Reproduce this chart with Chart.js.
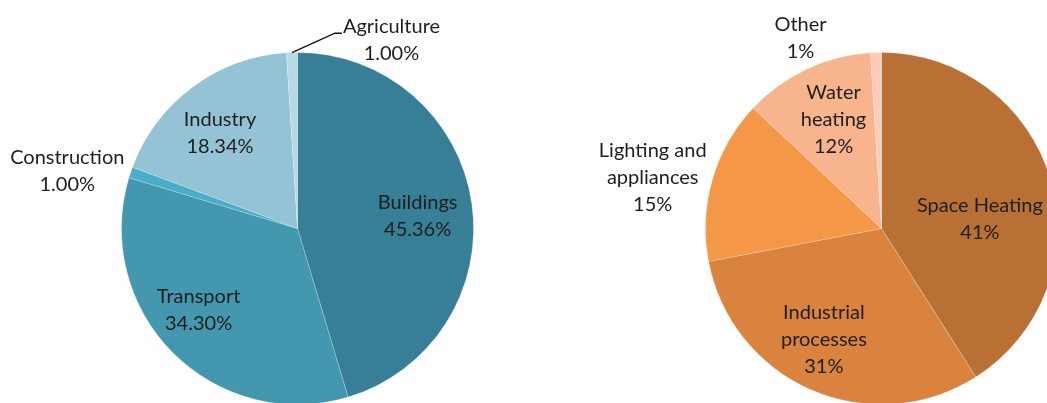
<!DOCTYPE html>
<html>
<head>
<meta charset="utf-8">
<script src="https://cdn.jsdelivr.net/npm/chart.js@4.4.0/dist/chart.umd.min.js"></script>
<style>
  html, body { margin: 0; padding: 0; background: #fff; overflow: hidden; width: 1047px; height: 403px; }
  canvas { position: absolute; left: 0; top: 0; }
</style>
</head>
<body>
<canvas id="sectores" width="1100" height="460"></canvas>
<canvas id="usos" width="1100" height="460"></canvas>
<script>
// left pie: energy use by sector
const sectores = ['Buildings', 'Transport', 'Construction', 'Industry', 'Agriculture'];
const sectoresVal = [45.36, 34.30, 1.00, 18.34, 1.00];
const sectoresTxt = ['45.36%', '34.30%', '1.00%', '18.34%', '1.00%'];
const sectoresCor = ['#367f96', '#4398b0', '#4badc9', '#93c3d5', '#b8d8e4'];

// right pie: end uses
const usos = ['Space Heating', 'Industrial processes', 'Lighting and appliances', 'Water heating', 'Other'];
const usosVal = [41, 31, 15, 12, 1];
const usosTxt = ['41%', '31%', '15%', '12%', '1%'];
const usosCor = ['#b97034', '#d9833f', '#f49747', '#f8b48d', '#fbcdb9'];

// label placement: radius fraction + nudge (px)
const sectoresPos = [
  { f: 0.69, dx: 0, dy: 5, lines: ['Buildings'] },
  { f: 0.73, dx: -8, dy: -9, lines: ['Transport'] },
  { f: 1.35, dx: -5, dy: 18, lines: ['Construction'] },
  { f: 0.70, dx: -4, dy: 3, lines: ['Industry'] },
  { f: 1.09, dx: 100, dy: 3, lines: ['Agriculture'], leader: true }
];
const usosPos = [
  { f: 0.60, dx: -3, dy: 20, lines: ['Space Heating'] },
  { f: 0.71, dx: -8, dy: -4, lines: ['Industrial', 'processes'] },
  { f: 1.33, dx: -4, dy: 14, lines: ['Lighting and', 'appliances'] },
  { f: 0.68, dx: 3, dy: -1, lines: ['Water', 'heating'] },
  { f: 1.08, dx: -75, dy: 0, lines: ['Other'] }
];

const rotulos = {
  id: 'rotulos',
  afterDatasetsDraw(chart, args, opts) {
    const c = chart.ctx;
    const arcs = chart.getDatasetMeta(0).data;
    c.save();
    c.font = '20px Lato';
    c.fillStyle = '#1e1e1e';
    c.textAlign = 'center';
    c.textBaseline = 'middle';
    arcs.forEach((arc, i) => {
      const p = arc.getProps(['x', 'y', 'startAngle', 'endAngle', 'outerRadius'], true);
      const mid = (p.startAngle + p.endAngle) / 2;
      const pos = opts.pos[i];
      const lx = p.x + Math.cos(mid) * p.outerRadius * pos.f + pos.dx;
      const ly = p.y + Math.sin(mid) * p.outerRadius * pos.f + pos.dy;
      const lines = pos.lines.concat([opts.txt[i]]);
      const lh = 27;
      const y0 = ly - (lines.length - 1) * lh / 2;
      lines.forEach((t, k) => c.fillText(t, lx, y0 + k * lh));
      if (pos.leader) {
        const ex = p.x + Math.cos(mid) * p.outerRadius;
        const ey = p.y + Math.sin(mid) * p.outerRadius;
        const w = c.measureText(pos.lines[0]).width;
        c.strokeStyle = '#111';
        c.lineWidth = 1.3;
        c.beginPath();
        c.moveTo(ex, ey);
        c.lineTo(lx - w / 2 - 8, y0 + 7);
        c.lineTo(lx - w / 2 - 1, y0 + 7);
        c.stroke();
      }
    });
    c.restore();
  }
};

function criarPizza(id, labels, valores, cores, txt, pos, pad) {
  return new Chart(document.getElementById(id), {
    type: 'pie',
    data: {
      labels: labels,
      datasets: [{
        data: valores,
        backgroundColor: cores,
        borderColor: 'rgba(255,255,255,0.2)',
        borderWidth: 1
      }]
    },
    options: {
      responsive: false,
      animation: false,
      layout: { padding: pad },
      plugins: {
        legend: { display: false },
        tooltip: { enabled: false },
        rotulos: { pos: pos, txt: txt }
      }
    },
    plugins: [rotulos]
  });
}

criarPizza('sectores', sectores, sectoresVal, sectoresCor, sectoresTxt, sectoresPos,
  { left: 121, top: 52, right: 1100 - 474, bottom: 460 - 405 });
criarPizza('usos', usos, usosVal, usosCor, usosTxt, usosPos,
  { left: 705, top: 52, right: 1100 - 1058, bottom: 460 - 405 });
</script>
</body>
</html>
